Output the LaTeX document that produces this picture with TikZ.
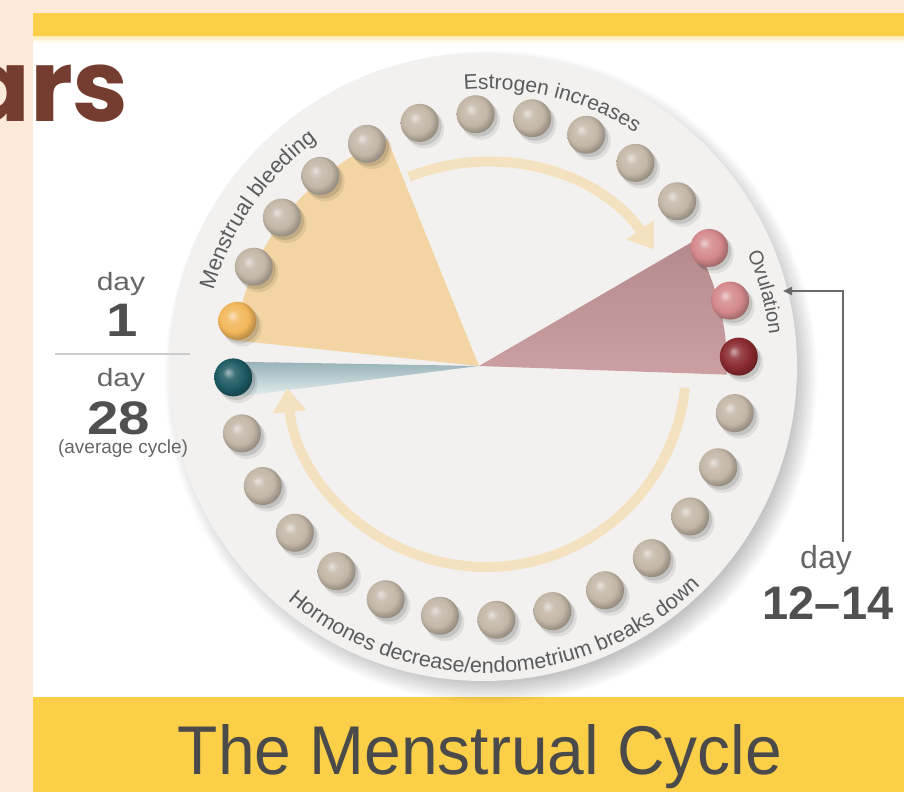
\documentclass[tikz,border=0pt]{standalone}
\usepackage{fontspec}
\setmainfont{Liberation Sans}
\newfontfamily\arsfont{Poppins}
\usetikzlibrary{arrows.meta,decorations.text}
\definecolor{peach}{HTML}{FDE9D8}
\definecolor{barYellow}{HTML}{FCCF48}
\definecolor{discFill}{HTML}{F3F1EF}
\definecolor{beadgray}{HTML}{C3B7A7}
\definecolor{tanSector}{HTML}{F2D5A3}
\definecolor{roseSector}{HTML}{CCA0A2}
\definecolor{roseDark}{HTML}{B58A8E}
\definecolor{tealDark}{HTML}{98B2B8}
\definecolor{tealLight}{HTML}{E2EDEF}
\definecolor{arrowTan}{HTML}{F4E1BF}
\definecolor{txtgray}{HTML}{5C5C5C}
\definecolor{daygray}{HTML}{666666}
\definecolor{numgray}{HTML}{505050}
\definecolor{rulegray}{HTML}{CCCCCC}
\definecolor{titlegray}{HTML}{4A4A4A}
\definecolor{brownArs}{HTML}{753D2F}
\definecolor{beadYellow}{HTML}{F2B75A}
\definecolor{beadPink}{HTML}{D4898C}
\definecolor{beadRed}{HTML}{8A2A2F}
\definecolor{beadTeal}{HTML}{1D5A63}
\colorlet{ballc}{beadgray}
\pgfdeclareradialshading[ballc]{beadshade}{\pgfpoint{-7bp}{7bp}}{color(0bp)=(ballc!40!white); color(8bp)=(ballc!85!white); color(19bp)=(ballc); color(30bp)=(ballc!70!black); color(50bp)=(ballc!70!black)}
\tikzset{
  beadball/.style={circle, minimum size=38pt, inner sep=0pt, shade, shading=beadshade, /utils/exec={\colorlet{ballc}{#1}}},
  curvedlbl/.style={decorate, decoration={text along path, text align=center, text={#1}}},
  cyclearrow/.style={draw=arrowTan, line width=10pt, -{Triangle[width=32pt,length=24pt]}},
  daylbl/.style={text=daygray, inner sep=0pt},
  numlbl/.style={text=numgray, inner sep=0pt},
}
\begin{document}
\begin{tikzpicture}[x=1pt,y=1pt]
\useasboundingbox (0,0) rectangle (904,792);
\clip (0,0) rectangle (904,792);
% background bands
\fill[peach] (0,0) rectangle (904,792);
\fill[white] (33,95) rectangle (904,755);
\fill[barYellow] (33,755) rectangle (904,779);
\shade[top color=barYellow!35, bottom color=white] (33,755) rectangle (904,749);
\fill[barYellow] (33,0) rectangle (904,95);
% centres
\coordinate (C) at (486,425);
\coordinate (A) at (479,426);
\coordinate (D) at (483,425);
% disc shadow and disc
\foreach \i in {0,...,11} \fill[black,opacity=0.02] ([shift={(8,-10)}]D) circle ({304+2*\i});
\fill[discFill] (D) circle (314);
% sectors
\fill[tanSector] (A) -- ++(112:245) arc[start angle=112, end angle=174, radius=245] -- cycle;
\shade[top color=roseDark, bottom color=roseSector] (A) -- ++(30.2:248) arc[start angle=30.2, end angle=-2, radius=248] -- cycle;
\shade[top color=tealDark, bottom color=tealLight] (A) -- ++(179:240) arc[start angle=179, end angle=187.2, radius=240] -- cycle;
% cycle arrows
\draw[cyclearrow] (C) ++(112:205) arc[start angle=112, end angle=35, radius=205];
\draw[cyclearrow] (C) ++(-6:200) arc[start angle=-6, end angle=-174, radius=200];
% beads
\foreach \k/\c in {1/beadYellow,2/beadgray,3/beadgray,4/beadgray,5/beadgray,6/beadgray,7/beadgray,8/beadgray,9/beadgray,10/beadgray,11/beadgray,12/beadPink,13/beadPink,14/beadRed,15/beadgray,16/beadgray,17/beadgray,18/beadgray,19/beadgray,20/beadgray,21/beadgray,22/beadgray,23/beadgray,24/beadgray,25/beadgray,26/beadgray,27/beadgray,28/beadTeal}{
  \pgfmathsetmacro\ang{169.5-(\k-1)*12.857142857}
  \path (C) ++(\ang:253) coordinate (p\k);
  \fill[black,opacity=0.08] ([shift={(5,-6)}]p\k) circle (19.5);
  \fill[black,opacity=0.12] ([shift={(3,-3.5)}]p\k) circle (19);
  \node[beadball=\c] (d\k) at (p\k) {};
}
% curved labels
\path[curvedlbl={|\fontsize{21}{21}\selectfont\color{txtgray}|Estrogen increases}] (C) ++(111:278) arc[start angle=111, end angle=41, radius=278];
\path[curvedlbl={|\fontsize{22}{22}\selectfont\color{txtgray}|Menstrual bleeding}] (C) ++(180:283) arc[start angle=180, end angle=111, radius=283];
\path[curvedlbl={|\fontsize{20}{20}\selectfont\color{txtgray}|Ovulation}] (C) ++(35:285) arc[start angle=35, end angle=-5, radius=285];
\path[curvedlbl={|\fontsize{21.5}{21.5}\selectfont\color{txtgray}|Hormones decrease/endometrium breaks down}] (C) ++(-133:306) arc[start angle=-133, end angle=-43, radius=306];
% left labels
\node[daylbl, font=\fontsize{25}{25}\selectfont] (dayA) at (121,508) {\scalebox{1.2}[1]{day}};
\node[numlbl, font=\bfseries\fontsize{47}{47}\selectfont] (numA) at (122,472) {\scalebox{1.2}[1]{1}};
\draw[rulegray, line width=2pt] (55,438) -- (190,438);
\node[daylbl, font=\fontsize{25}{25}\selectfont] (dayB) at (121,412) {\scalebox{1.2}[1]{day}};
\node[numlbl, font=\bfseries\fontsize{47}{47}\selectfont] (numB) at (119,374) {\scalebox{1.2}[1]{28}};
\node[daylbl, font=\fontsize{19}{19}\selectfont] (avg) at (123,343) {(average cycle)};
% right labels
\node[daylbl, font=\fontsize{32}{32}\selectfont] (dayC) at (826,232) {day};
\node[numlbl, font=\bfseries\fontsize{47}{47}\selectfont] (numC) at (828,189) {12–14};
\coordinate (conStart) at (843,250);
\coordinate (ovTip) at (783,501);
\draw[numgray!85, line width=1.8pt, -{Triangle[length=9pt,width=8pt]}] (conStart) |- (ovTip);
% title
\node[anchor=base, text=titlegray, inner sep=0pt, font=\fontsize{69}{69}\selectfont] (title) at (480,18) {\scalebox{0.955}[1]{The Menstrual Cycle}};
% clipped heading fragment
\node[anchor=base east, text=brownArs, inner sep=0pt, font=\arsfont\bfseries\fontsize{100}{100}\selectfont] (ars) at (129,670) {ars};
\end{tikzpicture}
\end{document}
